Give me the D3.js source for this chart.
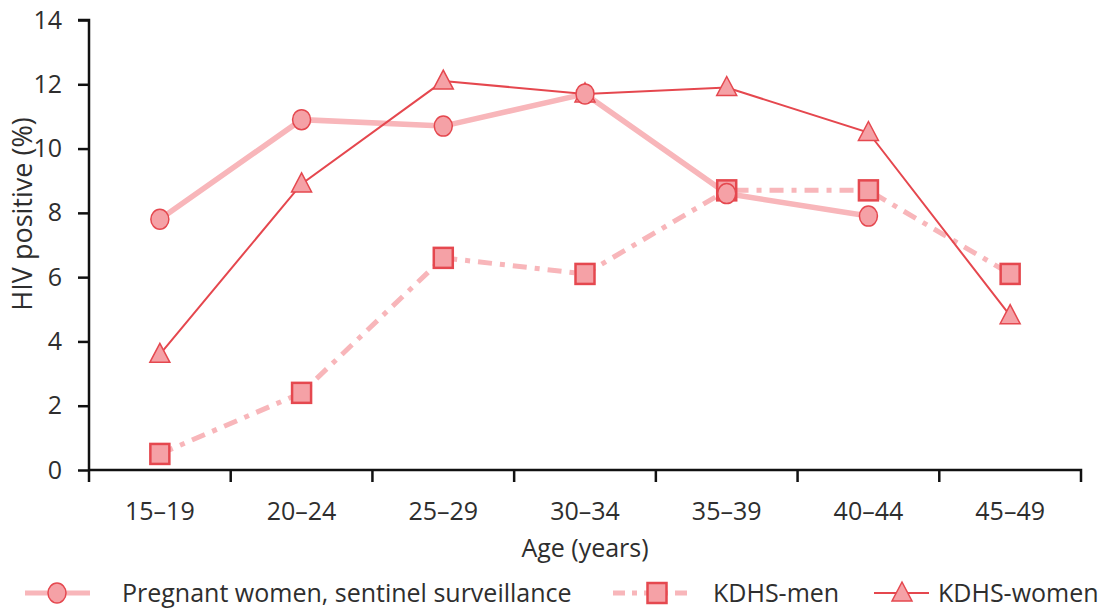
<!DOCTYPE html>
<html><head><meta charset="utf-8">
<script src="https://cdn.jsdelivr.net/npm/d3@7/dist/d3.min.js"></script>
<style>body{margin:0;background:#fff}svg{display:block}text{font-family:"Open Sans",sans-serif;fill:#2e2e2e}</style>
</head><body><svg id="c" width="1111" height="609"></svg>
<script>
const categories = ["15–19","20–24","25–29","30–34","35–39","40–44","45–49"];
const pregnantWomen = [7.8, 10.9, 10.7, 11.7, 8.6, 7.9, null];
const kdhsMen = [0.5, 2.4, 6.6, 6.1, 8.7, 8.7, 6.1];
const kdhsWomen = [3.6, 8.9, 12.1, 11.7, 11.9, 10.5, 4.8];
const yTicks = [0,2,4,6,8,10,12,14];
const seriesNames = ["Pregnant women, sentinel surveillance","KDHS-men","KDHS-women"];

const FS = "25px";
const svg = d3.select("#c");
const x = d3.scaleBand().domain(categories).range([89,1081]);
const y = d3.scaleLinear().domain([0,14]).range([470,20]);

// axes
const gy = svg.append("g").attr("transform","translate(89,0)")
  .call(d3.axisLeft(y).tickValues(yTicks).tickSize(11).tickPadding(16).tickSizeOuter(0));
gy.select(".domain").attr("stroke","#111").attr("stroke-width",2.5).attr("d","M0,470V20H-11");
gy.selectAll(".tick line").attr("stroke","#111").attr("stroke-width",2.5);
gy.selectAll(".tick text").style("font-size",FS).attr("fill","#2e2e2e");

const gx = svg.append("g").attr("transform","translate(0,470)")
  .call(d3.axisBottom(x).tickSize(0).tickPadding(32));
gx.select(".domain").attr("stroke","#111").attr("stroke-width",2.5).attr("d","M89,0H1081V12");
gx.selectAll(".tick text").style("font-size",FS).attr("fill","#2e2e2e");
// boundary ticks
const bounds = categories.map(c=>x(c));
svg.append("g").selectAll("line").data(bounds).join("line")
  .attr("x1",d=>d).attr("x2",d=>d).attr("y1",470).attr("y2",482)
  .attr("stroke","#111").attr("stroke-width",2.5);

svg.append("text").attr("x",585).attr("y",557).attr("text-anchor","middle")
  .style("font-size",FS).text("Age (years)");
svg.append("text").attr("transform","translate(32,214) rotate(-90)").attr("text-anchor","middle")
  .style("font-size","27px").text("HIV positive (%)");

const cx = c => x(c) + x.bandwidth()/2;
const lightLine = "#f8b6ba", markFill = "#f5a1a6", markStroke = "#e5484f", darkLine = "#e5474e";

function draw(vals, style){
  const pts = categories.map((c,i)=>({c,v:vals[i]})).filter(d=>d.v!=null);
  const line = d3.line().x(d=>cx(d.c)).y(d=>y(d.v));
  svg.append("path").datum(pts).attr("d",line).attr("fill","none")
    .attr("stroke",style.color).attr("stroke-width",style.width)
    .attr("stroke-dasharray",style.dash||null);
  return pts;
}
function circle(g,xx,yy){g.append("ellipse").attr("cx",xx).attr("cy",yy).attr("rx",9).attr("ry",10).attr("fill",markFill).attr("stroke",markStroke).attr("stroke-width",1.5);}
function square(g,xx,yy){g.append("rect").attr("x",xx-9.5).attr("y",yy-10).attr("width",19).attr("height",20).attr("fill",markFill).attr("stroke",markStroke).attr("stroke-width",2.5);}
function tri(g,xx,yy){g.append("path").attr("d",`M${xx},${yy-11}L${xx+10},${yy+8}L${xx-10},${yy+8}Z`).attr("fill",markFill).attr("stroke",markStroke).attr("stroke-width",1.5);}

const mPts = draw(kdhsMen,{color:lightLine,width:5,dash:"14,8,5,8"});
const pPts = draw(pregnantWomen,{color:lightLine,width:5.5});
const wPts = draw(kdhsWomen,{color:darkLine,width:2});
const mk = svg.append("g");
wPts.forEach(d=>tri(mk,cx(d.c),y(d.v)));
mPts.forEach(d=>square(mk,cx(d.c),y(d.v)));
pPts.forEach(d=>circle(mk,cx(d.c),y(d.v)));

// legend
const ly = 593;
const lg = svg.append("g");
lg.append("line").attr("x1",25).attr("x2",90).attr("y1",ly).attr("y2",ly).attr("stroke",lightLine).attr("stroke-width",5);
circle(lg,57,ly);
lg.append("text").attr("x",122).attr("y",ly+9).style("font-size",FS).text(seriesNames[0]);
lg.append("line").attr("x1",613).attr("x2",690).attr("y1",ly).attr("y2",ly).attr("stroke",lightLine).attr("stroke-width",5).attr("stroke-dasharray","12,7,5,7");
square(lg,657,ly);
lg.append("text").attr("x",713).attr("y",ly+9).style("font-size",FS).text(seriesNames[1]);
lg.append("line").attr("x1",874).attr("x2",929).attr("y1",ly).attr("y2",ly).attr("stroke",darkLine).attr("stroke-width",2);
tri(lg,902,ly);
lg.append("text").attr("x",938).attr("y",ly+9).style("font-size",FS).text(seriesNames[2]);
</script></body></html>
